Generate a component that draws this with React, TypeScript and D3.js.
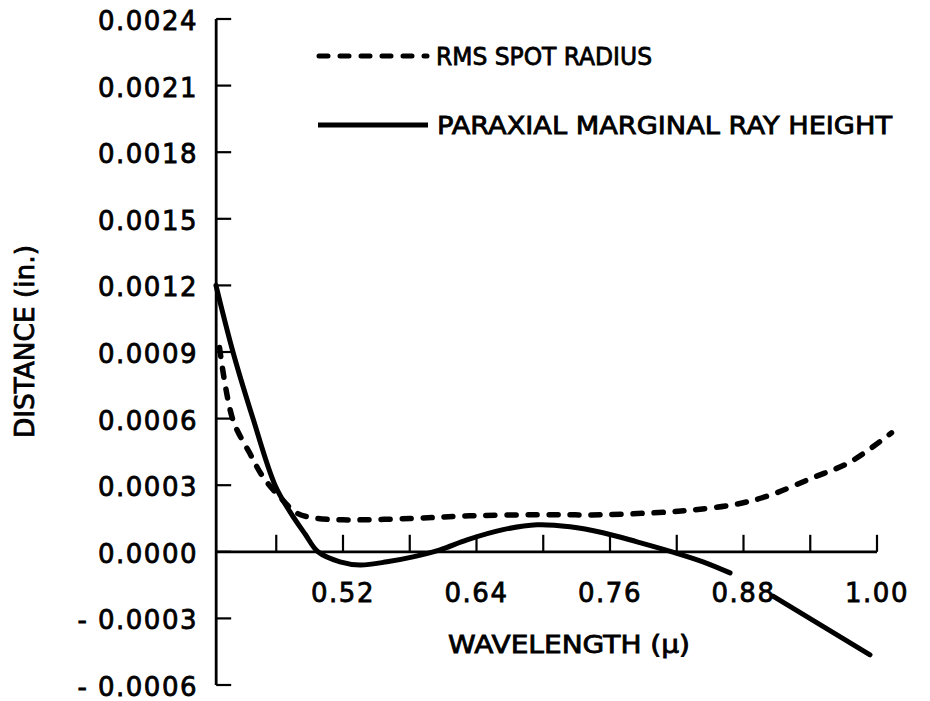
import React from "react";
import * as d3 from "d3";

// ---- data ----
const wavelengthTicks = [0.46, 0.52, 0.58, 0.64, 0.7, 0.76, 0.82, 0.88, 0.94, 1.0];
const wavelengthLabels = [0.52, 0.64, 0.76, 0.88, 1.0];
const wavelengthLabelText = ["0.52", "0.64", "0.76", "0.88", "1.00"];
const distanceTicks = [-0.0006, -0.0003, 0, 0.0003, 0.0006, 0.0009, 0.0012, 0.0015, 0.0018, 0.0021, 0.0024];
const distanceLabelText = ["- 0.0006", "- 0.0003", "0.0000", "0.0003", "0.0006", "0.0009", "0.0012", "0.0015", "0.0018", "0.0021", "0.0024"];

const rmsWavelength = [0.409, 0.421, 0.436, 0.448, 0.463, 0.478, 0.493, 0.52, 0.58, 0.634, 0.697, 0.754, 0.814, 0.841, 0.874, 0.901, 0.942, 0.976, 1.013];
const rmsRadius = [0.00092, 0.000595, 0.000446, 0.000338, 0.000248, 0.000176, 0.000153, 0.000144, 0.00015, 0.000162, 0.000167, 0.000167, 0.00018, 0.000192, 0.000215, 0.00025, 0.000333, 0.000405, 0.000536];

const paraxialWavelength = [0.4058, 0.4211, 0.4391, 0.4589, 0.4724, 0.4859, 0.4975, 0.5173, 0.5353, 0.5596, 0.5829, 0.6072, 0.6315, 0.6639, 0.6944, 0.7241, 0.7537, 0.7843, 0.8157, 0.8436, 0.8679, 0.887, 0.9065, 0.9937];
const paraxialHeight: (number | null)[] = [0.0012, 0.0009, 0.0006, 0.0003, 0.00018, 0.00008, 0.0, -0.000045, -0.000059, -0.000045, -0.000023, 0.000009, 0.000054, 0.0001, 0.000122, 0.000113, 0.000086, 0.000045, 0.0, -0.000045, -0.000095, null, -0.0002, -0.000464];

const axisStartWavelength = 0.406;
const legendItems = ["RMS SPOT RADIUS", "PARAXIAL MARGINAL RAY HEIGHT"];
const xTitle = "WAVELENGTH (\u03BC)";
const yTitle = "DISTANCE (in.)";

export default function App() {
  const x = d3.scaleLinear().domain([0.4, 1.0]).range([209.5, 877]);
  const y = d3.scaleLinear().domain([-0.0006, 0.0024]).range([685, 19]);
  const font = "'DejaVu Sans', sans-serif";

  const rmsData = rmsWavelength.map((w, i) => [w, rmsRadius[i]] as [number, number]);
  const parData = paraxialWavelength.map((w, i) => [w, paraxialHeight[i]] as [number, number | null]);

  const line = d3
    .line<[number, number | null]>()
    .defined((d) => d[1] !== null)
    .x((d) => x(d[0]))
    .y((d) => y(d[1] as number))
    .curve(d3.curveCatmullRom.alpha(0.5));

  const x0 = x(axisStartWavelength);
  const yZero = y(0);
  const textStyle = { fill: "#000", stroke: "#000", strokeWidth: 0.8 };

  return (
    <svg
      width={930}
      height={701}
      style={{ position: "absolute", left: 0, top: 0, background: "#fff" }}
      fontFamily={font}
    >
      <rect x={0} y={0} width={930} height={701} fill="#fff" />
      {/* axes */}
      <line x1={x0} x2={x0} y1={y(0.0024)} y2={y(-0.0006)} stroke="#000" strokeWidth={2.8} />
      <line x1={x0} x2={x(1.0)} y1={yZero} y2={yZero} stroke="#000" strokeWidth={2.8} />
      {distanceTicks.map((t, i) => (
        <g key={"yt" + i}>
          <line x1={x0} x2={x0 + 15} y1={y(t)} y2={y(t)} stroke="#000" strokeWidth={2.2} />
          <text x={198} y={y(t) + 11} textAnchor="end" fontSize={26} letterSpacing={1.5} style={textStyle}>
            {distanceLabelText[i]}
          </text>
        </g>
      ))}
      {wavelengthTicks.map((t, i) => (
        <line key={"xt" + i} x1={x(t)} x2={x(t)} y1={yZero} y2={yZero - 17} stroke="#000" strokeWidth={2.2} />
      ))}
      {wavelengthLabels.map((t, i) => (
        <text key={"xl" + i} x={x(t)} y={602} textAnchor="middle" fontSize={26} letterSpacing={1.5} style={textStyle}>
          {wavelengthLabelText[i]}
        </text>
      ))}
      <text x={448} y={653} fontSize={24} textLength={242} lengthAdjust="spacingAndGlyphs" style={textStyle}>
        {xTitle}
      </text>
      <text
        transform="translate(34,438) rotate(-90)"
        x={0}
        y={0}
        fontSize={26}
        textLength={193}
        lengthAdjust="spacingAndGlyphs"
        style={textStyle}
      >
        {yTitle}
      </text>

      {/* curves */}
      <path
        d={line(rmsData) || ""}
        fill="none"
        stroke="#000"
        strokeWidth={5.5}
        strokeDasharray="9 12"
        strokeLinecap="round"
      />
      <path d={line(parData) || ""} fill="none" stroke="#000" strokeWidth={5} strokeLinecap="round" />

      {/* legend */}
      <line x1={319} x2={427} y1={56} y2={56} stroke="#000" strokeWidth={5} strokeDasharray="9 12" strokeLinecap="round" />
      <text x={436} y={65} fontSize={24} textLength={216} lengthAdjust="spacingAndGlyphs" style={textStyle}>
        {legendItems[0]}
      </text>
      <line x1={318} x2={428} y1={125} y2={125} stroke="#000" strokeWidth={5} />
      <text x={437} y={134} fontSize={24} textLength={455} lengthAdjust="spacingAndGlyphs" style={textStyle}>
        {legendItems[1]}
      </text>
    </svg>
  );
}
